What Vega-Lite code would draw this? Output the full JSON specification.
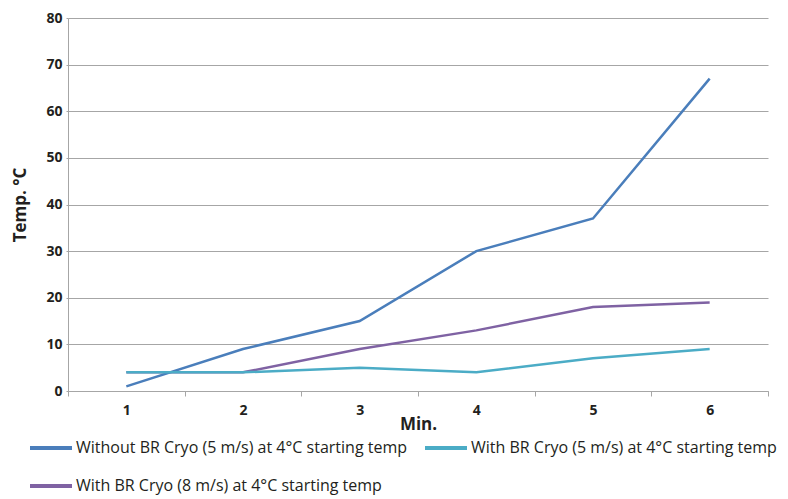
{
  "$schema": "https://vega.github.io/schema/vega-lite/v6.json",
  "autosize": "none",
  "width": 700,
  "height": 373,
  "padding": {"left": 68, "top": 18, "right": 20, "bottom": 108},
  "background": "white",
  "config": {
    "font": "Open Sans",
    "view": {"stroke": null}
  },
  "data": {
    "values": [
      {"min": 1, "series": "With BR Cryo (8 m/s) at 4°C starting temp", "temp": 4},
      {"min": 2, "series": "With BR Cryo (8 m/s) at 4°C starting temp", "temp": 4},
      {"min": 3, "series": "With BR Cryo (8 m/s) at 4°C starting temp", "temp": 9},
      {"min": 4, "series": "With BR Cryo (8 m/s) at 4°C starting temp", "temp": 13},
      {"min": 5, "series": "With BR Cryo (8 m/s) at 4°C starting temp", "temp": 18},
      {"min": 6, "series": "With BR Cryo (8 m/s) at 4°C starting temp", "temp": 19},
      {"min": 1, "series": "Without BR Cryo (5 m/s) at 4°C starting temp", "temp": 1},
      {"min": 2, "series": "Without BR Cryo (5 m/s) at 4°C starting temp", "temp": 9},
      {"min": 3, "series": "Without BR Cryo (5 m/s) at 4°C starting temp", "temp": 15},
      {"min": 4, "series": "Without BR Cryo (5 m/s) at 4°C starting temp", "temp": 30},
      {"min": 5, "series": "Without BR Cryo (5 m/s) at 4°C starting temp", "temp": 37},
      {"min": 6, "series": "Without BR Cryo (5 m/s) at 4°C starting temp", "temp": 67},
      {"min": 1, "series": "With BR Cryo (5 m/s) at 4°C starting temp", "temp": 4},
      {"min": 2, "series": "With BR Cryo (5 m/s) at 4°C starting temp", "temp": 4},
      {"min": 3, "series": "With BR Cryo (5 m/s) at 4°C starting temp", "temp": 5},
      {"min": 4, "series": "With BR Cryo (5 m/s) at 4°C starting temp", "temp": 4},
      {"min": 5, "series": "With BR Cryo (5 m/s) at 4°C starting temp", "temp": 7},
      {"min": 6, "series": "With BR Cryo (5 m/s) at 4°C starting temp", "temp": 9}
    ]
  },
  "mark": {"type": "line", "strokeWidth": 2.5},
  "encoding": {
    "x": {
      "field": "min",
      "type": "ordinal",
      "scale": {"type": "band", "paddingInner": 0, "paddingOuter": 0},
      "axis": {
        "title": "Min.",
        "labelAngle": 0,
        "tickBand": "extent",
        "grid": false,
        "domainColor": "#a6a6a6",
        "tickColor": "#a6a6a6",
        "tickSize": 5,
        "labelPadding": 7,
        "labelFontSize": 14,
        "labelFontWeight": "bold",
        "labelColor": "#231f20",
        "titleFontSize": 17,
        "titleFontWeight": "bold",
        "titleColor": "#231f20",
        "titleBaseline": "alphabetic",
        "titleY": 38
      }
    },
    "y": {
      "field": "temp",
      "type": "quantitative",
      "scale": {"domain": [0, 80], "nice": false},
      "axis": {
        "title": "Temp. °C",
        "values": [0, 10, 20, 30, 40, 50, 60, 70, 80],
        "gridColor": "#a6a6a6",
        "domainColor": "#a6a6a6",
        "tickColor": "#a6a6a6",
        "tickSize": 2,
        "labelPadding": 4,
        "labelFontSize": 14,
        "labelFontWeight": "bold",
        "labelColor": "#231f20",
        "titleFontSize": 17,
        "titleFontWeight": "bold",
        "titleColor": "#231f20",
        "titlePadding": 16
      }
    },
    "color": {
      "field": "series",
      "type": "nominal",
      "scale": {
        "domain": [
          "Without BR Cryo (5 m/s) at 4°C starting temp",
          "With BR Cryo (5 m/s) at 4°C starting temp",
          "With BR Cryo (8 m/s) at 4°C starting temp"
        ],
        "range": ["#4a7ebb", "#4bacc6", "#7f62a3"]
      },
      "legend": {
        "title": null,
        "orient": "none",
        "direction": "horizontal",
        "legendX": -40,
        "legendY": 407,
        "columns": 2,
        "columnPadding": 9,
        "rowPadding": 7,
        "symbolType": "stroke",
        "symbolSize": 1764,
        "symbolStrokeWidth": 4,
        "labelOffset": 2,
        "labelFontSize": 16,
        "labelLimit": 500,
        "labelColor": "#231f20"
      }
    },
    "order": {"field": "series"}
  }
}
